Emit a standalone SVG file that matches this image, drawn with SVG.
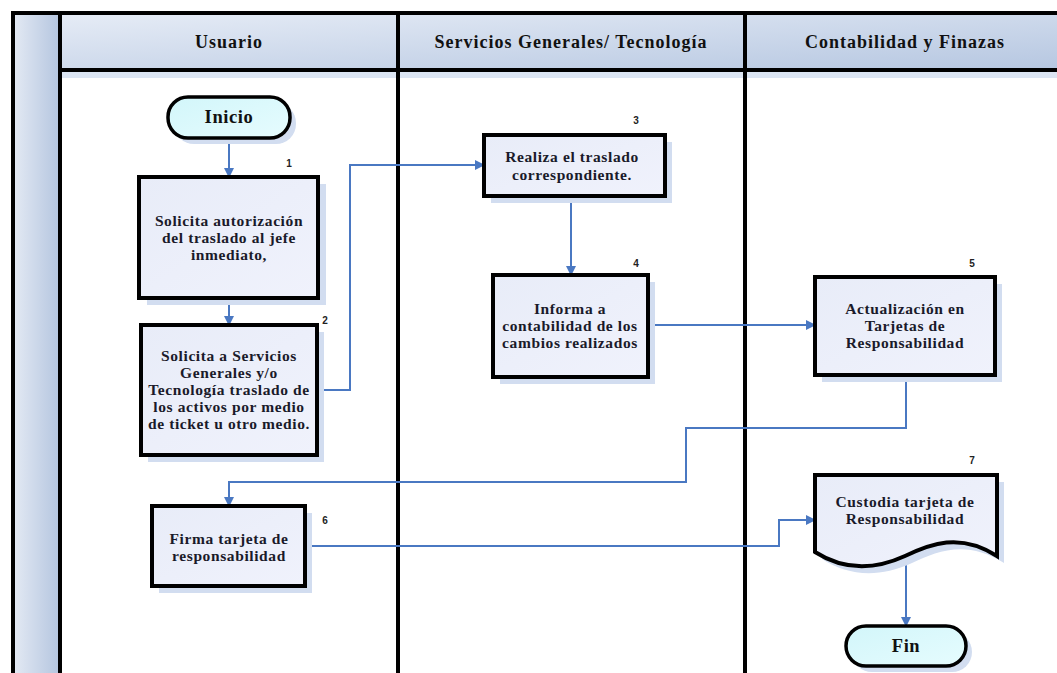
<svg xmlns="http://www.w3.org/2000/svg" width="1057" height="673" viewBox="0 0 1057 673">
<defs>
<linearGradient id="hdr" x1="0" y1="0" x2="1" y2="1"><stop offset="0" stop-color="#E6ECF6"/><stop offset="1" stop-color="#B6C7E1"/></linearGradient>
<linearGradient id="strip" x1="0" y1="0" x2="1" y2="0"><stop offset="0" stop-color="#E4EAF4"/><stop offset="1" stop-color="#B4C5DF"/></linearGradient>
<linearGradient id="box" x1="0" y1="0" x2="1" y2="1"><stop offset="0" stop-color="#E8ECF8"/><stop offset="1" stop-color="#F0F2FC"/></linearGradient>
<linearGradient id="pill" x1="0" y1="0" x2="1" y2="1"><stop offset="0" stop-color="#D2F6FA"/><stop offset="1" stop-color="#E6FCFE"/></linearGradient>
<marker id="arr" markerWidth="10" markerHeight="10" refX="9" refY="5" orient="auto" markerUnits="userSpaceOnUse"><path d="M0,0 L10,5 L0,10 Z" fill="#4A78C2"/></marker>
<style>
.lane{stroke:#000;stroke-width:4;fill:none}
.hd{font-family:"Liberation Serif","Times New Roman",serif;font-weight:bold;font-size:18px;letter-spacing:1px;fill:#111;text-anchor:middle}
.t{font-family:"Liberation Serif","Times New Roman",serif;font-weight:bold;font-size:15.5px;letter-spacing:0.6px;fill:#1a1a2a;text-anchor:middle}
.tp{font-family:"Liberation Serif","Times New Roman",serif;font-weight:bold;font-size:18.5px;letter-spacing:0.6px;fill:#111;text-anchor:middle}
.n{font-family:"Liberation Sans",Arial,sans-serif;font-weight:bold;font-size:10px;fill:#222;text-anchor:middle}
.b{fill:url(#box);stroke:#000;stroke-width:4}
.p{fill:url(#pill);stroke:#000;stroke-width:3.5}
.sh{fill:#D2DDF0}
.c{fill:none;stroke:#4A78C2;stroke-width:2}
</style>
</defs>
<rect x="0" y="0" width="1057" height="673" fill="#fff"/>
<g id="lanes">
<rect x="13" y="13" width="47" height="660" fill="url(#strip)"/>
<rect x="60" y="13" width="997" height="57" fill="url(#hdr)"/>
<rect x="62" y="72" width="995" height="6" fill="#DCE5F3"/>
<line class="lane" x1="11" y1="13" x2="1057" y2="13"/>
<line class="lane" x1="60" y1="70" x2="1057" y2="70"/>
<line class="lane" x1="13" y1="11" x2="13" y2="673"/>
<line class="lane" x1="60" y1="11" x2="60" y2="673"/>
<line class="lane" x1="398" y1="11" x2="398" y2="673"/>
<line class="lane" x1="745" y1="11" x2="745" y2="673"/>
<text class="hd" x="229" y="48">Usuario</text>
<text class="hd" x="571" y="48">Servicios Generales/ Tecnología</text>
<text class="hd" x="905" y="48">Contabilidad y Finazas</text>
</g>
<g id="connectors">
<path class="c" d="M229,138 V177" marker-end="url(#arr)"/>
<path class="c" d="M229,298 V325" marker-end="url(#arr)"/>
<path class="c" d="M317,390 H350 V165 H484" marker-end="url(#arr)"/>
<path class="c" d="M571,196 V275" marker-end="url(#arr)"/>
<path class="c" d="M648,325 H815" marker-end="url(#arr)"/>
<path class="c" d="M906,375 V428 H686 V482 H229 V506" marker-end="url(#arr)"/>
<path class="c" d="M305,546 H779 V520 H815" marker-end="url(#arr)"/>
<path class="c" d="M906,557 V626" marker-end="url(#arr)"/>
</g>
<g id="inicio">
<rect class="sh" x="174" y="103" width="122" height="41" rx="20"/>
<rect class="p" x="168" y="97" width="122" height="41" rx="20"/>
<text class="tp" x="229" y="123">Inicio</text>
</g>
<g id="n1">
<rect class="sh" x="147" y="184" width="179" height="121"/>
<rect class="b" x="139" y="177" width="179" height="121"/>
<text class="n" x="289" y="167">1</text>
<text class="t" x="229" y="226">Solicita autorización</text>
<text class="t" x="229" y="243">del traslado al jefe</text>
<text class="t" x="229" y="260">inmediato,</text>
</g>
<g id="n2">
<rect class="sh" x="148" y="332" width="176" height="130"/>
<rect class="b" x="141" y="325" width="176" height="130"/>
<text class="n" x="325" y="324">2</text>
<text class="t" x="229" y="361">Solicita a Servicios</text>
<text class="t" x="229" y="378">Generales y/o</text>
<text class="t" x="229" y="395">Tecnología traslado de</text>
<text class="t" x="229" y="412">los activos por medio</text>
<text class="t" x="229" y="429">de ticket u otro medio.</text>
</g>
<g id="n3">
<rect class="sh" x="491" y="142" width="181" height="61"/>
<rect class="b" x="484" y="135" width="181" height="61"/>
<text class="n" x="636" y="124">3</text>
<text class="t" x="572" y="162">Realiza el traslado</text>
<text class="t" x="572" y="180">correspondiente.</text>
</g>
<g id="n4">
<rect class="sh" x="500" y="282" width="155" height="102"/>
<rect class="b" x="493" y="275" width="155" height="102"/>
<text class="n" x="636" y="267">4</text>
<text class="t" x="570" y="314">Informa a</text>
<text class="t" x="570" y="331">contabilidad de los</text>
<text class="t" x="570" y="348">cambios realizados</text>
</g>
<g id="n5">
<rect class="sh" x="822" y="284" width="180" height="98"/>
<rect class="b" x="815" y="277" width="180" height="98"/>
<text class="n" x="972" y="267">5</text>
<text class="t" x="905" y="314">Actualización en</text>
<text class="t" x="905" y="331">Tarjetas de</text>
<text class="t" x="905" y="348">Responsabilidad</text>
</g>
<g id="n6">
<rect class="sh" x="159" y="513" width="153" height="80"/>
<rect class="b" x="152" y="506" width="153" height="80"/>
<text class="n" x="325" y="524">6</text>
<text class="t" x="229" y="544">Firma tarjeta de</text>
<text class="t" x="229" y="561">responsabilidad</text>
</g>
<g id="n7">
<path class="sh" d="M822,482 H1004 V563 C967,539 937,551 912,563 C877,579 847,575 822,559 Z"/>
<path class="b" d="M815,475 H997 V556 C960,532 930,544 905,556 C870,572 840,568 815,552 Z"/>
<text class="n" x="972" y="464">7</text>
<text class="t" x="905" y="507">Custodia tarjeta de</text>
<text class="t" x="905" y="524">Responsabilidad</text>
</g>
<g id="fin">
<rect class="sh" x="852" y="632" width="120" height="40" rx="20"/>
<rect class="p" x="846" y="626" width="120" height="40" rx="20"/>
<text class="tp" x="906" y="652">Fin</text>
</g>
</svg>
